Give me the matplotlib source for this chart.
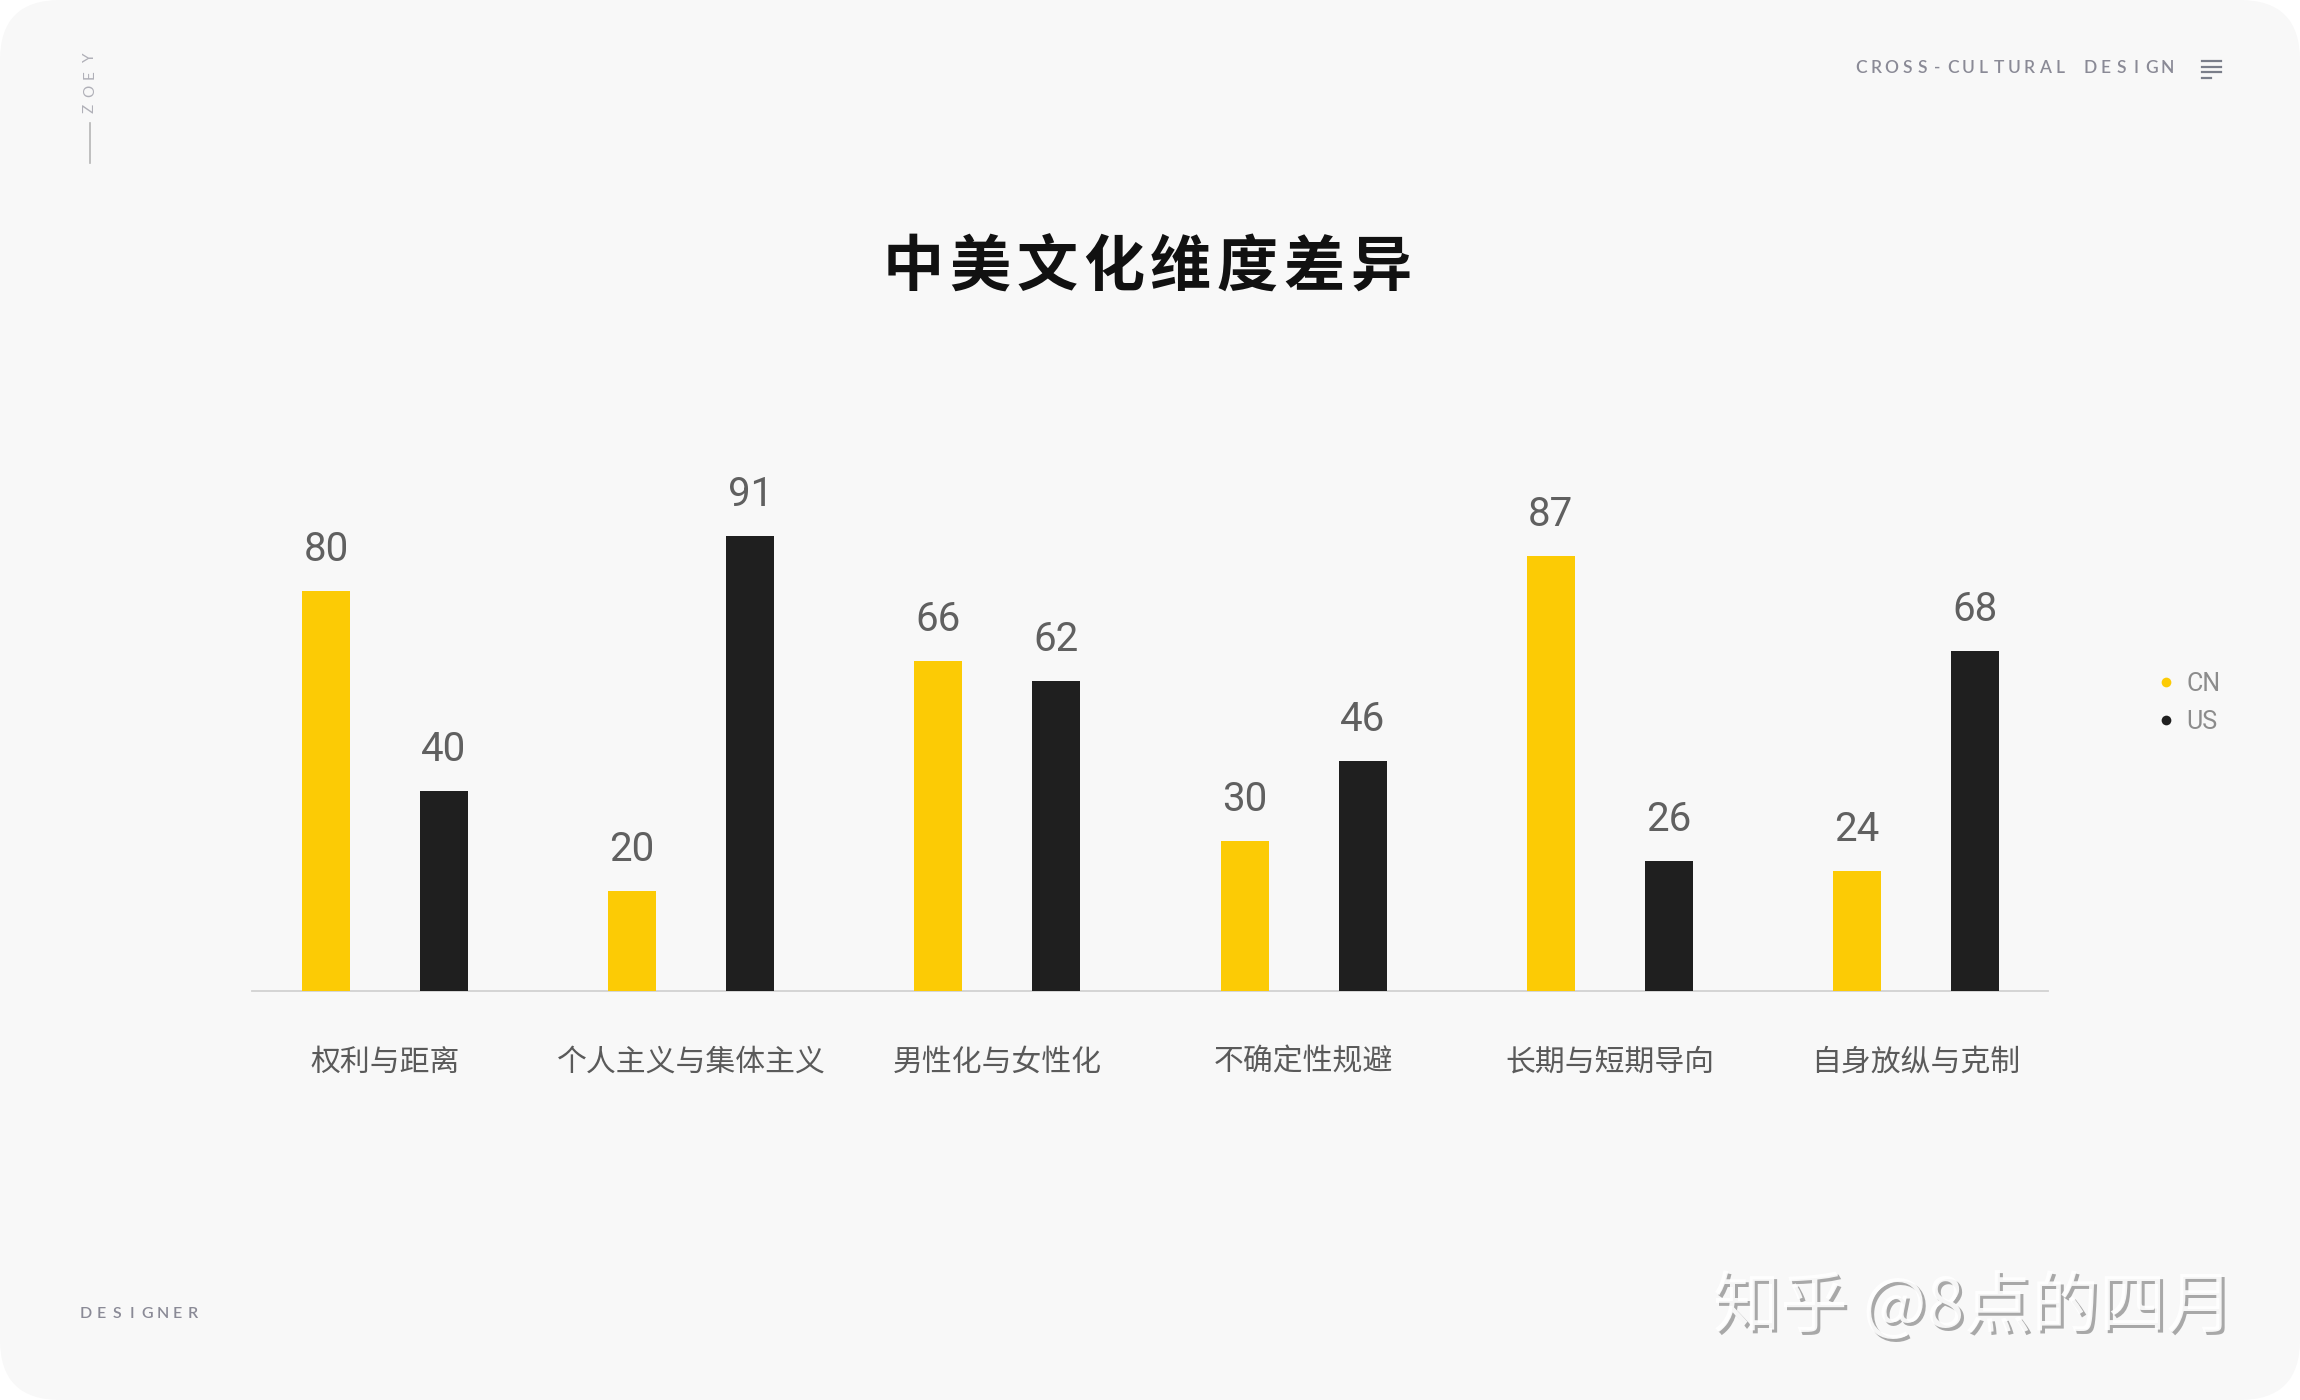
import matplotlib
matplotlib.use('Agg')
import matplotlib.pyplot as plt
from matplotlib.patches import FancyBboxPatch
from matplotlib.lines import Line2D
from matplotlib.transforms import offset_copy
import numpy as np

categories = ['权利与距离', '个人主义与集体主义', '男性化与女性化',
              '不确定性规避', '长期与短期导向', '自身放纵与克制']
cn_values = [80, 20, 66, 30, 87, 24]
us_values = [40, 91, 62, 46, 26, 68]

YELLOW = '#fccb05'
BLACK = '#1f1f1f'
CJK = ['Noto Sans CJK SC', 'DejaVu Sans']

W, H = 2300, 1400
fig = plt.figure(figsize=(23, 14), dpi=100, facecolor='white')


def px(x, y):
    # pixel position (from top-left) -> figure fraction
    return x / W, 1 - y / H


def spaced(xc, y, text, pitch, **kw):
    # draw text with wide letter spacing, one char at a time
    n = len(text)
    for i, ch in enumerate(text):
        fig.text(*px(xc + (i - (n - 1) / 2) * pitch, y), ch,
                 ha='center', va='center', **kw)


# page card with rounded corners
card = FancyBboxPatch((0, 0), 23, 14, boxstyle='round,pad=0,rounding_size=0.6',
                      transform=fig.dpi_scale_trans, facecolor='#f8f8f8',
                      edgecolor='none', zorder=-10)
fig.patches.append(card)

ax = fig.add_axes([252 / W, 1 - 991 / H, 1796 / W, 500 / H])
ax.set_facecolor('none')

x = np.arange(len(categories))
off, bw = 0.1927, 0.1568
b1 = ax.bar(x - off, cn_values, width=bw, color=YELLOW, label='CN', zorder=3)
b2 = ax.bar(x + off, us_values, width=bw, color=BLACK, label='US', zorder=3)

for bars in (b1, b2):
    for b in bars:
        ax.annotate(f'{b.get_height():.0f}',
                    (b.get_x() + b.get_width() / 2, b.get_height()),
                    xytext=(0, 21.5), textcoords='offset points',
                    ha='center', va='baseline', fontsize=29,
                    family='Roboto', color='#606060')

ax.set_xlim(-0.434, 5.431)
ax.set_ylim(0, 100)
ax.set_yticks([])
ax.set_xticks(x)
ax.set_xticklabels(categories, family=CJK, fontsize=21.5, color='#5a5a5a')
ax.tick_params(axis='x', length=0, pad=40)
for s in ['top', 'left', 'right']:
    ax.spines[s].set_visible(False)
ax.spines['bottom'].set_color('#d2d2d2')
ax.spines['bottom'].set_linewidth(1.3)

# legend
handles = [Line2D([], [], marker='o', linestyle='none', markersize=7,
                  markerfacecolor=c, markeredgecolor='none') for c in (YELLOW, BLACK)]
leg = fig.legend(handles, ['CN', 'US'], loc='center left',
                 bbox_to_anchor=px(2131, 703), frameon=False,
                 prop={'family': 'Roboto', 'size': 18},
                 labelcolor='#8c8c8c', handletextpad=0.3, labelspacing=0.55,
                 handlelength=1.0)

# title
spaced(1147, 268, '中美文化维度差异', 66.7, family=CJK, fontsize=44,
       fontweight='bold', color='#111111')

# header / footer decorations
spaced(2014, 68, 'CROSS-CULTURAL DESIGN', 15.3, family='Lato',
       fontsize=12.5, fontweight='semibold', color='#8a8a96')
for yy, ww in [(61, 19), (66.5, 19), (72, 19), (77.5, 9)]:
    fig.add_artist(Line2D([2202 / W, (2202 + ww) / W], [1 - yy / H, 1 - yy / H],
                          color='#7a7e8a', linewidth=1.6))

for i, ch in enumerate('ZOEY'):
    fig.text(*px(90, 108 - i * 16.8), ch, rotation=90, ha='center', va='center',
             family='Lato', fontsize=11, color='#b0b0b8')
fig.add_artist(Line2D([90 / W, 90 / W], [1 - 123 / H, 1 - 163 / H],
                      color='#b5b5b5', linewidth=1.2))

spaced(139.5, 1313.5, 'DESIGNER', 15.3, family='Lato', fontsize=11.5,
       fontweight='semibold', color='#8a8a96')

# watermark
wx, wy = px(1713, 1308)
fig.text(wx, wy, '知乎 @8点的四月', family=CJK, fontsize=48.5, color='#a8a8a8',
         ha='left', va='center',
         transform=offset_copy(fig.transFigure, fig=fig, x=3, y=-3, units='dots'))
fig.text(wx, wy, '知乎 @8点的四月', family=CJK, fontsize=48.5, color='white',
         ha='left', va='center', alpha=0.9)

fig.savefig('out.png', dpi=100, facecolor='white')
